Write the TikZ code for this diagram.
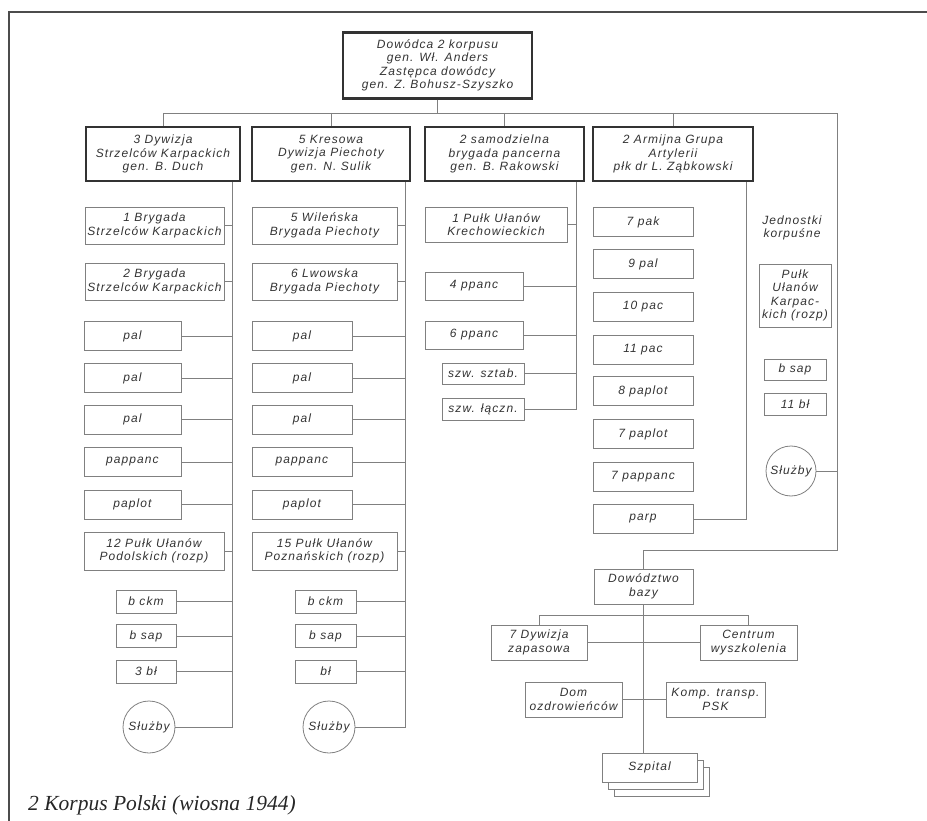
\documentclass[tikz,border=0pt]{standalone}
\usepackage{fontspec}
\setmainfont{Liberation Sans}
\newfontfamily\boxfont[LetterSpace=9]{Liberation Sans}
\newfontfamily\capfont{Liberation Serif}
\begin{document}
\begin{tikzpicture}[x=1pt,y=-1pt,
  txt/.style={font=\boxfont\itshape\fontsize{12}{13.5}\selectfont, text=black!80, align=center},
  cb/.style={txt, draw=black!50, line width=0.8pt, inner sep=0pt},
  hb/.style={txt, draw=black!80, line width=2.2pt, inner sep=0pt},
  circ/.style={txt, circle, draw=black!50, line width=0.8pt, inner sep=0pt},
  ln/.style={draw=black!50, line width=0.9pt},
  frame/.style={draw=black!70, line width=1.8pt}]
\useasboundingbox (0,0) rectangle (927,821);
\draw[frame] (9,821) -- (9,12) -- (927,12);

% top
\node[hb, minimum width=189, minimum height=66] (top) at (437.5,65.5) {Dowódca 2 korpusu\\gen. Wł. Anders\\Zastępca dowódcy\\gen. Z. Bohusz-Szyszko};
% level 2
\node[hb, minimum width=154, minimum height=54] (d1) at (163,154) {3 Dywizja\\Strzelców Karpackich\\gen. B. Duch};
\node[hb, minimum width=158, minimum height=54] (d2) at (331,154) {5 Kresowa\\Dywizja Piechoty\\gen. N. Sulik};
\node[hb, minimum width=159, minimum height=54] (d3) at (504.5,154) {2 samodzielna\\brygada pancerna\\gen. B. Rakowski};
\node[hb, minimum width=160, minimum height=54] (d4) at (673,154) {2 Armijna Grupa\\Artylerii\\płk dr L. Ząbkowski};

% column 1
\node[cb, minimum width=139, minimum height=37] (a1) at (154.5,225.5) {1 Brygada\\Strzelców Karpackich};
\node[cb, minimum width=139, minimum height=37] (a2) at (154.5,281.5) {2 Brygada\\Strzelców Karpackich};
\node[cb, minimum width=97, minimum height=29] (a3) at (132.5,336) {pal};
\node[cb, minimum width=97, minimum height=29] (a4) at (132.5,378) {pal};
\node[cb, minimum width=97, minimum height=29] (a5) at (132.5,419.5) {pal};
\node[cb, minimum width=97, minimum height=29] (a6) at (132.5,462) {pappanc};
\node[cb, minimum width=97, minimum height=29] (a7) at (132.5,504.5) {paplot};
\node[cb, minimum width=140, minimum height=38] (a8) at (154,551) {12 Pułk Ułanów\\Podolskich (rozp)};
\node[cb, minimum width=60, minimum height=23] (a9) at (146,601.5) {b ckm};
\node[cb, minimum width=60, minimum height=23] (a10) at (146,636) {b sap};
\node[cb, minimum width=60, minimum height=23] (a11) at (146,671.5) {3 bł};
\node[circ, minimum size=52] (as) at (149,727) {Służby};

% column 2
\node[cb, minimum width=145, minimum height=37] (b1) at (324.5,225.5) {5 Wileńska\\Brygada Piechoty};
\node[cb, minimum width=145, minimum height=37] (b2) at (324.5,281.5) {6 Lwowska\\Brygada Piechoty};
\node[cb, minimum width=100, minimum height=29] (b3) at (302,336) {pal};
\node[cb, minimum width=100, minimum height=29] (b4) at (302,378) {pal};
\node[cb, minimum width=100, minimum height=29] (b5) at (302,419.5) {pal};
\node[cb, minimum width=100, minimum height=29] (b6) at (302,462) {pappanc};
\node[cb, minimum width=100, minimum height=29] (b7) at (302,504.5) {paplot};
\node[cb, minimum width=145, minimum height=38] (b8) at (324.5,551) {15 Pułk Ułanów\\Poznańskich (rozp)};
\node[cb, minimum width=61, minimum height=23] (b9) at (325.5,601.5) {b ckm};
\node[cb, minimum width=61, minimum height=23] (b10) at (325.5,636) {b sap};
\node[cb, minimum width=61, minimum height=23] (b11) at (325.5,671.5) {bł};
\node[circ, minimum size=52] (bs) at (329,727) {Służby};

% column 3
\node[cb, minimum width=142, minimum height=35] (c1) at (496,224.5) {1 Pułk Ułanów\\Krechowieckich};
\node[cb, minimum width=98, minimum height=28] (c2) at (474,286) {4 ppanc};
\node[cb, minimum width=98, minimum height=28] (c3) at (474,335) {6 ppanc};
\node[cb, minimum width=82, minimum height=21] (c4) at (483,373.5) {szw. sztab.};
\node[cb, minimum width=82, minimum height=22] (c5) at (483,409) {szw. łączn.};

% column 4
\node[cb, minimum width=100, minimum height=29] (e1) at (643,222) {7 pak};
\node[cb, minimum width=100, minimum height=29] (e2) at (643,264) {9 pal};
\node[cb, minimum width=100, minimum height=29] (e3) at (643,307) {10 pac};
\node[cb, minimum width=100, minimum height=29] (e4) at (643,350) {11 pac};
\node[cb, minimum width=100, minimum height=29] (e5) at (643,391) {8 paplot};
\node[cb, minimum width=100, minimum height=29] (e6) at (643,434) {7 paplot};
\node[cb, minimum width=100, minimum height=29] (e7) at (643,477) {7 pappanc};
\node[cb, minimum width=100, minimum height=29] (e8) at (643,519) {parp};

% corps units
\node[txt] (jk) at (792,228) {Jednostki\\korpuśne};
\node[cb, minimum width=72, minimum height=63] (f1) at (795,295.5) {Pułk\\Ułanów\\Karpac-\\kich (rozp)};
\node[cb, minimum width=62, minimum height=21] (f2) at (795,369.5) {b sap};
\node[cb, minimum width=62, minimum height=22] (f3) at (795,404) {11 bł};
\node[circ, minimum size=50] (fs) at (791,471) {Służby};

% base
\node[cb, minimum width=99, minimum height=35] (dow) at (643.5,586.5) {Dowództwo\\bazy};
\node[cb, minimum width=96, minimum height=35] (zap) at (539,642.5) {7 Dywizja\\zapasowa};
\node[cb, minimum width=97, minimum height=35] (cw) at (748.5,642.5) {Centrum\\wyszkolenia};
\node[cb, minimum width=97, minimum height=35] (dom) at (573.5,699.5) {Dom\\ozdrowieńców};
\node[cb, minimum width=99, minimum height=35] (kt) at (715.5,699.5) {Komp. transp.\\PSK};
\node[cb, fill=white, minimum width=95, minimum height=29] (sz3) at (661.5,781.5) {};
\node[cb, fill=white, minimum width=95, minimum height=29] (sz2) at (655.5,774.5) {};
\node[cb, fill=white, minimum width=95, minimum height=29] (sz) at (649.5,767.5) {Szpital};

% caption
\node[anchor=base west, inner sep=0pt, font=\capfont\itshape\fontsize{21.5}{24}\selectfont, text=black!85] (cap) at (28,810) {2 Korpus Polski (wiosna 1944)};

% coordinates
\coordinate (bus) at (0,113);
\coordinate (rv) at (837,0);
\coordinate (jn) at (0,550);
\coordinate (v1) at (232,0);
\coordinate (v2) at (405,0);
\coordinate (v3) at (576,0);
\coordinate (v4) at (746,0);
\coordinate (bar) at (0,615);
\coordinate (bx) at (643,0);

% connectors
\draw[ln] (top.south) -- (top.south |- bus);
\draw[ln] (d1.north |- bus) -- (rv |- bus) -- (rv |- jn) -- (dow.north |- jn) -- (dow.north);
\foreach \n in {d1,d2,d3,d4} \draw[ln] (\n.north |- bus) -- (\n.north);
\draw[ln] (fs.east) -- (fs.east -| rv);

\draw[ln] (d1.south -| v1) -- (as.east -| v1) -- (as.east);
\foreach \n in {a1,a2,a3,a4,a5,a6,a7,a8,a9,a10,a11} \draw[ln] (\n.east) -- (\n.east -| v1);
\draw[ln] (d2.south -| v2) -- (bs.east -| v2) -- (bs.east);
\foreach \n in {b1,b2,b3,b4,b5,b6,b7,b8,b9,b10,b11} \draw[ln] (\n.east) -- (\n.east -| v2);
\draw[ln] (d3.south -| v3) -- (c5.east -| v3) -- (c5.east);
\foreach \n in {c1,c2,c3,c4} \draw[ln] (\n.east) -- (\n.east -| v3);
\draw[ln] (d4.south -| v4) -- (e8.east -| v4) -- (e8.east);

\draw[ln] (dow.south -| bx) -- (sz.north -| bx);
\draw[ln] (zap.north) -- (zap.north |- bar) -- (cw.north |- bar) -- (cw.north);
\draw[ln] (zap.east) -- (cw.west);
\draw[ln] (dom.east) -- (kt.west);
\end{tikzpicture}
\end{document}
